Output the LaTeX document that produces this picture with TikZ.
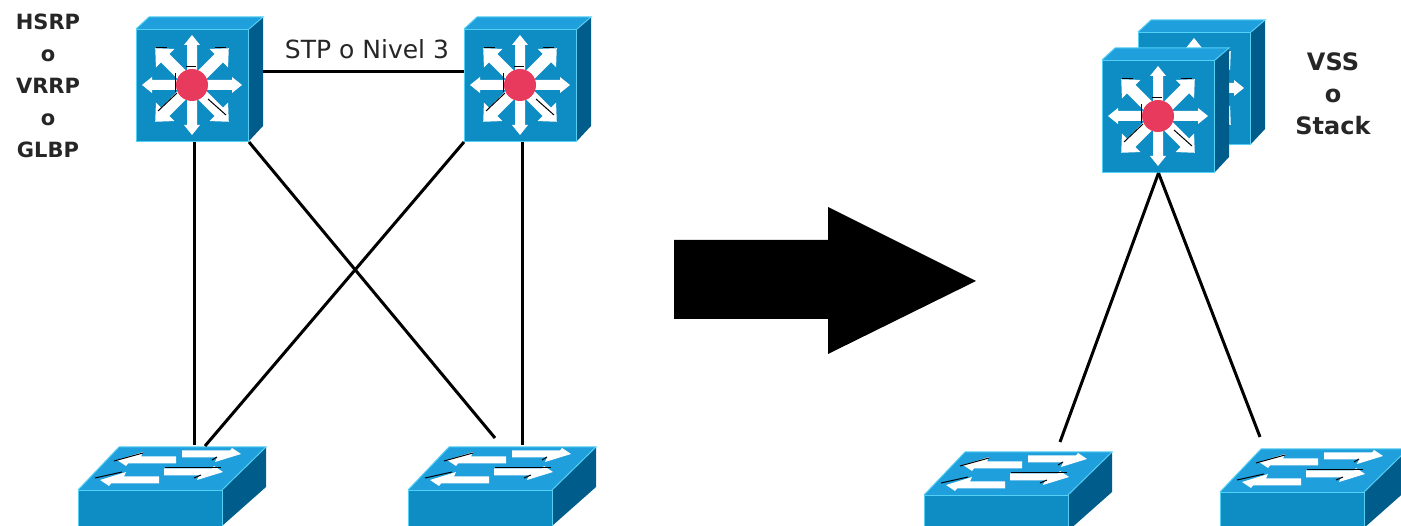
\documentclass[tikz,border=0pt]{standalone}
\usepackage{fontspec}
\setmainfont{DejaVu Sans}
\usepackage{xcolor}
\usetikzlibrary{positioning,calc}

\definecolor{swfront}{HTML}{0E8CC4}
\definecolor{swtop}{HTML}{1F9FDC}
\definecolor{swside}{HTML}{005C8A}
\definecolor{swedge}{HTML}{55D0F5}
\definecolor{swhub}{HTML}{E83A5C}

\tikzset{
  mlfront/.style={draw=swedge, line width=1pt, fill=swfront, minimum size=112pt, inner sep=0pt},
  l2front/.style={draw=swedge, line width=1pt, fill=swfront, minimum width=144pt, minimum height=36pt, inner sep=0pt},
  link/.style={black, line width=3pt},
  edgeln/.style={swedge, line width=1pt},
  shade/.style={black, line width=1pt},
  boldlbl/.style={font=\fontsize{21}{32}\selectfont\bfseries, align=center, text=black!85, inner sep=0pt},
}

% multilayer switch: name, left and top of the front face
\newcommand{\mlswitch}[3]{
  \begin{scope}[shift={(#2,#3)}]
    \fill[swtop] (0,0) -- (13,-12) -- (127,-12) -- (113,0) -- cycle;
    \fill[swside] (113,0) -- (127,-12) -- (127,97) -- (113,112) -- cycle;
    \draw[edgeln] (0,0) -- (13,-12) -- (127,-12) -- (113,0);
    \node[mlfront, anchor=north west] (#1) at (0,0) {};
    \coordinate (#1port) at (127,43);
    \foreach \a in {0,90,180,270}
      \fill[white, shift={(56,56)}, rotate=\a]
        (0,-5) -- (40,-5) -- (40,-8) -- (50,0) -- (40,8) -- (40,5) -- (0,5) -- cycle;
    \foreach \a in {45,135,225,315}
      \fill[white, shift={(56,56)}, rotate=\a]
        (0,-6) -- (38,-6) -- (38,-13) -- (52,0) -- (38,13) -- (38,6) -- (0,6) -- cycle;
    % dark edges on the arrows
    \draw[shade] (20,19) -- (31,19);
    \draw[shade] (79,19) -- (90,19);
    \draw[shade] (22,82) -- (41,64);
    \draw[shade] (50,38) -- (60,38);
    \draw[shade] (39,44) -- (39,63);
    \draw[shade] (72,70) -- (90,86);
    \fill[swhub] (56,56) circle (16);
  \end{scope}
}

% access switch: name, left and top of the front face
\newcommand{\lswitch}[3]{
  \begin{scope}[shift={(#2,#3)}]
    \fill[swtop] (0,0) -- (41,-43) -- (188,-43) -- (144,0) -- cycle;
    \fill[swside] (144,0) -- (188,-43) -- (188,-3) -- (144,36) -- cycle;
    \draw[edgeln] (0,0) -- (41,-43) -- (188,-43) -- (144,0);
    \node[l2front, anchor=north west] (#1) at (0,0) {};
    \foreach \tx/\ty/\rot in {98/-30/180, 104/-36/0, 81/-10/180, 86/-18/0}
      \fill[white, shift={(\tx,\ty)}, rotate=\rot]
        (0,-3.5) -- (48,-3.5) -- (50,-6) -- (59,0) -- (33,8) -- (35,3.5) -- (0,3.5) -- cycle;
    % dark edges on the arrows
    \draw[shade] (36,-29) -- (65,-37);
    \draw[shade] (17,-12) -- (44,-18);
    \draw[shade] (87,-22) -- (143,-22);
    \draw[shade] (134,-30) -- (139,-33);
    \draw[shade] (116,-12) -- (123,-15);
  \end{scope}
}

\begin{document}
\begin{tikzpicture}[x=1pt, y=-1pt]
\useasboundingbox (0,0) rectangle (1401,526);

% Left side: two multilayer switches
\mlswitch{core1}{136}{29}
\mlswitch{core2}{464}{29}
\lswitch{acc1}{78}{490}
\lswitch{acc2}{408}{490}

% Right side: the stacked pair
\mlswitch{vssback}{1138}{32}
\mlswitch{vssfront}{1102}{60}
\lswitch{acc3}{924}{495}
\lswitch{acc4}{1220}{492}

% Free ends on the access switches
\coordinate (up1) at (194,445);
\coordinate (up2) at (205,446);
\coordinate (up3) at (495,438);
\coordinate (up4) at (522,445);
\coordinate (up5) at (1060,442);
\coordinate (up6) at (1260,437);

% Links
\draw[link] (core1port) -- (core1port -| core2.west);
\draw[link] (up1 |- core1.south) -- (up1);
\draw[link] (core1.south east) -- (up3);
\draw[link] (core2.south west) -- (up2);
\draw[link] (up4 |- core2.south) -- (up4);
\draw[link] (vssfront.south) -- (up5);
\draw[link] (vssfront.south) -- (up6);

% Big arrow
\fill[black] (674,240) -- (828,240) -- (828,207) -- (976,281) -- (828,354) -- (828,319) -- (674,319) -- cycle;

% Labels
\node[boldlbl, anchor=north] (lblleft) at (48,14) {HSRP\\o\\VRRP\\o\\GLBP};
\node[boldlbl, font=\fontsize{24}{32}\selectfont\bfseries, anchor=north] (lblright) at (1333,52) {VSS\\o\\Stack};
\node[font=\fontsize{25}{28}\selectfont, text=black!85, inner sep=0pt] (lbllink) at (367,49) {STP o Nivel 3};
\end{tikzpicture}
\end{document}
